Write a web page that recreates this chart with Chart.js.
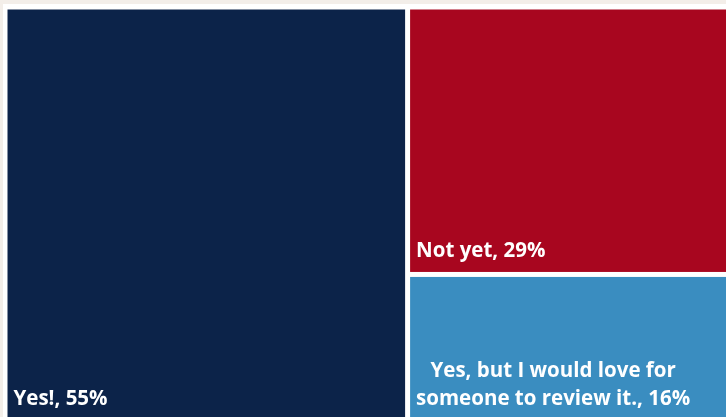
<!DOCTYPE html>
<html>
<head>
<meta charset="utf-8">
<script src="https://cdn.jsdelivr.net/npm/chart.js@4.4.1/dist/chart.umd.min.js"></script>
<style>
  html, body { margin: 0; padding: 0; background: #f3eee9; overflow: hidden; }
  #wrap { position: absolute; left: 0; top: 0; width: 740px; height: 425px; }
</style>
</head>
<body>
<div id="wrap"><canvas id="tree"></canvas></div>
<script>
const labels = ['Yes!', 'Not yet', 'Yes, but I would love for someone to review it.'];
const values = [55, 29, 16];
const colors = ['#0c2349', '#a8061f', '#3a8dc0'];

// simple treemap layout in value space (0..100 x 0..100)
function layout() {
  const total = values.reduce((a, b) => a + b, 0);
  const cells = [];
  const firstW = values[0] / total * 100;
  cells.push({ i: 0, x0: 0, x1: firstW, y0: 0, y1: 100 });
  const rest = total - values[0];
  let y = 0;
  for (let i = 1; i < values.length; i++) {
    const h = values[i] / rest * 100;
    cells.push({ i: i, x0: firstW, x1: 100, y0: y, y1: y + h });
    y += h;
  }
  return cells;
}

function wrapText(ctx, text, maxW) {
  const words = text.split(' ');
  const lines = [];
  let line = '';
  words.forEach(w => {
    const test = line ? line + ' ' + w : w;
    if (ctx.measureText(test).width > maxW && line) {
      lines.push(line);
      line = w;
    } else {
      line = test;
    }
  });
  lines.push(line);
  return lines;
}

const treemapPlugin = {
  id: 'treemap',
  beforeDraw(chart) {
    const ctx = chart.ctx;
    ctx.save();
    ctx.fillStyle = '#f3eee9';
    ctx.fillRect(0, 0, chart.width, chart.height);
    ctx.fillStyle = '#ffffff';
    ctx.fillRect(3, 4, chart.width, chart.height);
    ctx.restore();
  },
  afterDraw(chart) {
    const ctx = chart.ctx;
    const xs = chart.scales.x, ys = chart.scales.y;
    const gap = 2.5;
    ctx.save();
    layout().forEach(c => {
      const left = xs.getPixelForValue(c.x0) + gap;
      const right = xs.getPixelForValue(c.x1) - gap;
      const top = ys.getPixelForValue(c.y0) + gap;
      const bottom = ys.getPixelForValue(c.y1) - gap;
      ctx.fillStyle = colors[c.i];
      ctx.fillRect(left, top, right - left, bottom - top);

      // label, bottom left
      ctx.fillStyle = '#ffffff';
      ctx.font = 'bold 20.5px "Open Sans"';
      ctx.textBaseline = 'alphabetic';
      const txt = labels[c.i] + ', ' + values[c.i] + '%';
      const lines = wrapText(ctx, txt, right - left - 30);
      const widths = lines.map(l => ctx.measureText(l).width);
      const blockW = Math.max(...widths);
      const lineH = 28;
      lines.forEach((l, k) => {
        const yy = bottom - 15 - (lines.length - 1 - k) * lineH;
        const xx = left + 6 + (blockW - widths[k]) / 2;
        ctx.textAlign = 'left';
        ctx.fillText(l, xx, yy);
      });
    });
    ctx.restore();
  }
};

new Chart(document.getElementById('tree'), {
  type: 'scatter',
  data: { datasets: [{ data: [] }] },
  options: {
    responsive: true,
    maintainAspectRatio: false,
    animation: false,
    layout: { padding: { left: 5, top: 7, right: 3, bottom: 3 } },
    scales: {
      x: { type: 'linear', min: 0, max: 100, display: false },
      y: { type: 'linear', min: 0, max: 100, reverse: true, display: false }
    },
    plugins: { legend: { display: false }, tooltip: { enabled: false } }
  },
  plugins: [treemapPlugin]
});
</script>
</body>
</html>
